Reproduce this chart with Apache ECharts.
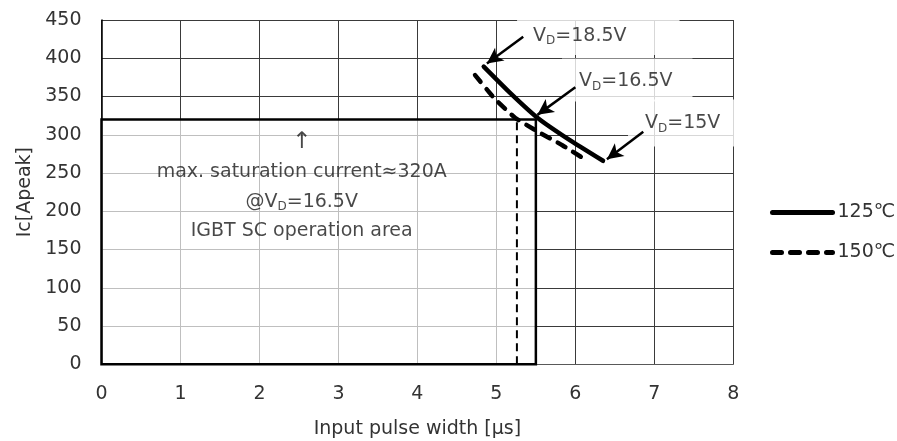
<!DOCTYPE html>
<html><head><meta charset="utf-8">
<script src="https://cdn.jsdelivr.net/npm/echarts@6/dist/echarts.min.js"></script>
<style>html,body{margin:0;padding:0;background:#fff}#c{width:897px;height:441px}</style>
</head><body><div id="c"></div>
<script>
// ---- data ----
const seriesNames = ['125℃', '150℃'];
const pulse125 = [4.84, 5.17, 5.51, 5.93, 6.35];
const ic125    = [389, 355, 323, 293, 266];
const pulse150 = [4.73, 4.98, 5.24, 5.51, 5.84, 6.15];
const ic150    = [378, 347, 322, 305, 286, 266];
const areaCorner = [5.5, 320];          // IGBT SC operation area
const limitPulse = [5.26, 320];         // 150℃ pulse limit at 320 A
const vdNames = ['18.5V', '16.5V', '15V'];
const vdLabelAnchor = [[5.262, 430.5], [5.831, 371.6], [6.667, 315.4]];
const arrowTails = [[5.34, 428], [6.00, 362], [6.86, 304]];
const arrowHeads = [[4.88, 393], [5.52, 326], [6.40, 268]];
const noteTexts = ['↑', 'max. saturation current≈320A', '@V{s|D}=16.5V', 'IGBT SC operation area'];
const notePos = [[2.535, 291], [2.535, 251.8], [2.535, 212.5], [2.535, 174.6]];
const xName = 'Input pulse width [µs]';
const yName = 'Ic[Apeak]';

// ---- chart ----
const FONT = 'DejaVu Sans';
const chart = echarts.init(document.getElementById('c'), null, {renderer: 'canvas'});
const zip = (a, b) => a.map((v, i) => [v, b[i]]);
const subRich = {
  v: {fontSize: 19, fontFamily: FONT, color: '#1a1a1a', lineHeight: 22},
  a: {fontSize: 23, fontFamily: FONT, color: '#1a1a1a', lineHeight: 24},
  s: {fontSize: 12, fontFamily: FONT, color: '#1a1a1a', lineHeight: 22, verticalAlign: 'bottom'}
};
const vdPad = [[10, 53, 8, 16], [12, 20, 9, 17], [13, 28, 12, 17]];
const toRich = t => t === '↑' ? '{a|↑}' :
  (t.indexOf('{') >= 0 ? t.replace(/^(.*?)\{/, '{v|$1}{').replace(/\}([^{}]*)$/, '}{v|$1}') : '{v|' + t + '}');

chart.setOption({
  animation: false,
  backgroundColor: '#fff',
  textStyle: {fontFamily: FONT},
  grid: {left: 101.5, right: 163.7, top: 20, bottom: 76.7, containLabel: false, outerBoundsMode: 'none'},
  legend: {
    data: seriesNames, orient: 'vertical', left: 765, top: 198, padding: 5,
    itemWidth: 60, itemHeight: 14, itemGap: 21,
    itemStyle: {opacity: 0},
    lineStyle: {width: 5, cap: 'round'},
    textStyle: {fontSize: 19, color: '#333', fontFamily: FONT},
    selectedMode: false
  },
  xAxis: {
    type: 'value', min: 0, max: 8, interval: 1,
    name: xName, nameLocation: 'middle', nameGap: 55,
    nameTextStyle: {fontSize: 19, color: '#333', fontFamily: FONT},
    axisLine: {show: true, lineStyle: {color: '#595959', width: 1}},
    axisTick: {show: false},
    axisLabel: {fontSize: 19, color: '#333', margin: 20, fontFamily: FONT},
    splitLine: {show: true, lineStyle: {color: '#3a3a3a', width: 1}}
  },
  yAxis: {
    type: 'value', min: 0, max: 450, interval: 50,
    name: yName, nameLocation: 'middle', nameGap: 67,
    nameTextStyle: {fontSize: 19, color: '#333', fontFamily: FONT},
    axisLine: {show: true, lineStyle: {color: '#000', width: 1.5}},
    axisTick: {show: false},
    axisLabel: {fontSize: 19, color: '#333', margin: 20, fontFamily: FONT},
    splitLine: {show: true, lineStyle: {color: '#3a3a3a', width: 1}}
  },
  series: [
    { // operation area box
      type: 'line', name: 'area', data: [], z: 1, silent: true,
      markArea: {
        silent: true,
        itemStyle: {color: 'rgba(255,255,255,0.68)', borderColor: '#000', borderWidth: 2.5},
        label: {show: false},
        data: [[{coord: [0, 0]}, {coord: areaCorner}]]
      }
    },
    { // dashed vertical limit
      type: 'line', name: 'limit', z: 3, silent: true, symbol: 'none',
      data: [[limitPulse[0], 0], limitPulse],
      lineStyle: {color: '#000', width: 2, type: [8, 5]}
    },
    { // annotation texts
      type: 'scatter', name: 'notes', z: 3, silent: true, symbolSize: 0,
      itemStyle: {color: 'rgba(0,0,0,0)'},
      data: [
        ...vdNames.map((n, i) => ({
          value: vdLabelAnchor[i],
          label: {
            show: true, position: 'right', distance: 0,
            formatter: '{v|V}{s|D}{v|=' + n + '}',
            backgroundColor: '#fff', padding: vdPad[i], rich: subRich
          }
        })),
        ...noteTexts.map((t, i) => ({
          value: notePos[i],
          label: {show: true, position: 'inside', formatter: toRich(t), rich: subRich}
        }))
      ]
    },
    { // arrows
      type: 'line', name: 'arrows', data: [], z: 4, silent: true,
      markLine: {
        silent: true, symbol: ['none', 'arrow'], symbolSize: [12, 16],
        lineStyle: {color: '#000', width: 2.5, type: 'solid'},
        label: {show: false},
        data: arrowTails.map((t, i) => [{coord: t}, {coord: arrowHeads[i]}])
      }
    },
    {
      type: 'line', name: seriesNames[0], z: 5, symbol: 'none', smooth: 0.15,
      data: zip(pulse125, ic125),
      lineStyle: {color: '#000', width: 4.5, cap: 'round'},
      itemStyle: {color: '#000'}
    },
    {
      type: 'line', name: seriesNames[1], z: 5, symbol: 'none', smooth: 0.15,
      data: zip(pulse150, ic150),
      lineStyle: {color: '#000', width: 4.5, type: [9, 9], cap: 'round'},
      itemStyle: {color: '#000'}
    }
  ]
});
</script></body></html>
